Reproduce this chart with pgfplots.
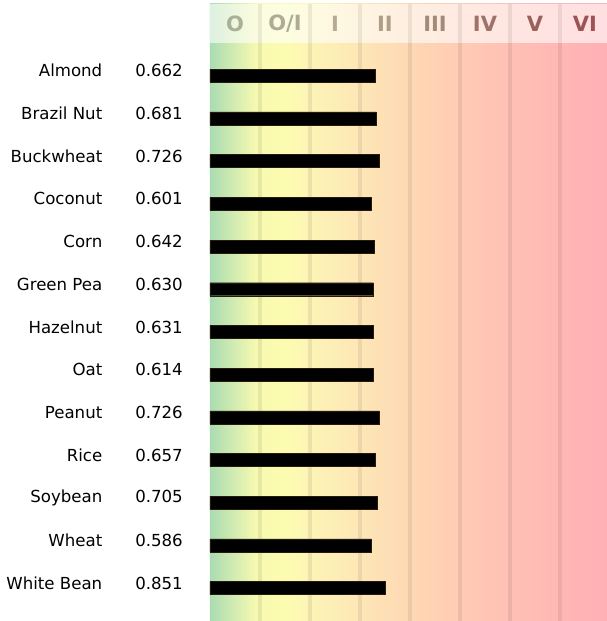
\documentclass[border=0pt]{standalone}
\usepackage{pgfplots}
\pgfplotsset{compat=1.18}
\usepackage{fontspec}
\setmainfont{DejaVu Sans}
\definecolor{g0}{RGB}{170,220,178}
\definecolor{g1}{RGB}{246,249,176}
\definecolor{g2}{RGB}{252,252,176}
\definecolor{g3}{RGB}{253,244,182}
\definecolor{g4}{RGB}{253,230,182}
\definecolor{g5}{RGB}{254,216,180}
\definecolor{g6}{RGB}{255,203,180}
\definecolor{g7}{RGB}{255,192,180}
\definecolor{g8}{RGB}{255,183,180}
\definecolor{g9}{RGB}{255,176,180}
\definecolor{h0}{RGB}{170,176,152}
\definecolor{h1}{RGB}{174,172,150}
\definecolor{h2}{RGB}{182,172,146}
\definecolor{h3}{RGB}{174,158,136}
\definecolor{h4}{RGB}{164,137,122}
\definecolor{h5}{RGB}{158,114,106}
\definecolor{h6}{RGB}{154,97,92}
\definecolor{h7}{RGB}{157,82,86}
\newcommand{\rowlab}[2]{#1\hspace{33pt}#2}
\begin{document}
\begin{tikzpicture}
\begin{axis}[
  name=ax,
  scale only axis, width=397pt, height=621pt,
  xmin=0, xmax=7.94,
  ymin=-1.773, ymax=12.77,
  y dir=reverse,
  axis line style={draw=none},
  tick style={draw=none},
  major tick length=0pt,
  xtick=\empty,
  ytick={0,...,12},
  yticklabels={
    \rowlab{Almond}{0.662},
    \rowlab{Brazil Nut}{0.681},
    \rowlab{Buckwheat}{0.726},
    \rowlab{Coconut}{0.601},
    \rowlab{Corn}{0.642},
    \rowlab{Green Pea}{0.630},
    \rowlab{Hazelnut}{0.631},
    \rowlab{Oat}{0.614},
    \rowlab{Peanut}{0.726},
    \rowlab{Rice}{0.657},
    \rowlab{Soybean}{0.705},
    \rowlab{Wheat}{0.586},
    \rowlab{White Bean}{0.851}},
  yticklabel style={anchor=east, inner sep=0pt, xshift=-27pt, yshift=5pt,
    font=\fontsize{16.6}{19}\selectfont},
  xbar, bar width=13pt, bar shift=0pt,
]
% background gradient
\fill[left color=g0, right color=g1] (axis cs:0,-1.68) rectangle (axis cs:0.91,12.8);
\fill[left color=g1, right color=g2] (axis cs:0.9,-1.68) rectangle (axis cs:1.51,12.8);
\fill[left color=g2, right color=g3] (axis cs:1.5,-1.68) rectangle (axis cs:2.01,12.8);
\fill[left color=g3, right color=g4] (axis cs:2,-1.68) rectangle (axis cs:3.01,12.8);
\fill[left color=g4, right color=g5] (axis cs:3,-1.68) rectangle (axis cs:4.01,12.8);
\fill[left color=g5, right color=g6] (axis cs:4,-1.68) rectangle (axis cs:5.01,12.8);
\fill[left color=g6, right color=g7] (axis cs:5,-1.68) rectangle (axis cs:6.01,12.8);
\fill[left color=g7, right color=g8] (axis cs:6,-1.68) rectangle (axis cs:7.01,12.8);
\fill[left color=g8, right color=g9] (axis cs:7,-1.68) rectangle (axis cs:7.94,12.8);
% header wash
\fill[white, opacity=0.6] (axis cs:0,-1.68) rectangle (axis cs:7.94,-0.766);
% column lines
\pgfplotsinvokeforeach{1,...,7}{
  \draw[black, opacity=0.07, line width=3.5pt] (axis cs:#1,-1.68) -- (axis cs:#1,12.8);
}
% header labels
\begin{scope}[every node/.style={font=\fontsize{21}{24}\selectfont\bfseries}]
\node[text=h0] at (axis cs:0.5,-1.22) {O};
\node[text=h1] at (axis cs:1.5,-1.22) {O/I};
\node[text=h2] at (axis cs:2.5,-1.22) {I};
\node[text=h3] at (axis cs:3.5,-1.22) {II};
\node[text=h4] at (axis cs:4.5,-1.22) {III};
\node[text=h5] at (axis cs:5.5,-1.22) {IV};
\node[text=h6] at (axis cs:6.5,-1.22) {V};
\node[text=h7] at (axis cs:7.5,-1.22) {VI};
\end{scope}
\addplot[fill=black, draw=black!80!brown, line width=0.4pt] coordinates {
  (3.30,0) (3.33,1) (3.38,2) (3.23,3) (3.29,4) (3.27,5) (3.27,6)
  (3.26,7) (3.38,8) (3.30,9) (3.35,10) (3.22,11) (3.51,12)
};
\coordinate (bl) at (rel axis cs:0,0);
\coordinate (tr) at (rel axis cs:1,1);
\end{axis}
\pgfresetboundingbox
\path ([xshift=-210pt]bl) rectangle (tr);
\end{tikzpicture}
\end{document}
